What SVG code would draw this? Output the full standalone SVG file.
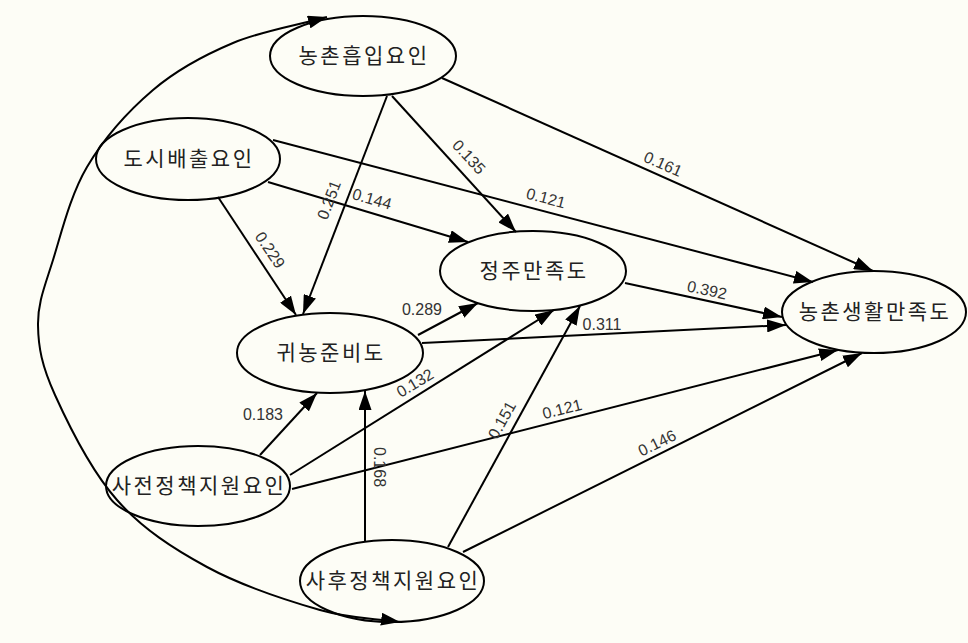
<svg xmlns="http://www.w3.org/2000/svg" width="968" height="643" viewBox="0 0 968 643">
<style>
.node ellipse{fill:none;stroke:#000;stroke-width:2}
.node text{font-family:"Noto Sans CJK KR","Noto Sans",sans-serif;font-size:21px;letter-spacing:2.5px;fill:#222;text-anchor:middle}
.edge{fill:none;stroke:#000;stroke-width:2;marker-end:url(#ah)}
.lbl{font-family:"Liberation Sans",Arial,sans-serif;font-size:16px;fill:#333;text-anchor:middle;dominant-baseline:central}
</style>
<defs>
<marker id="ah" viewBox="0 0 19 13" refX="19" refY="6.5" markerWidth="19" markerHeight="13" markerUnits="userSpaceOnUse" orient="auto-start-reverse"><path d="M0,0 L19,6.5 L0,13 z" fill="#000"/></marker>
</defs>
<rect width="968" height="643" fill="#fdfdf6"/>
<g id="connectors">
<path class="edge" style="marker-start:url(#ah)" d="M327,17 C295.7,25.7 262,30.8 233,43 C204,55.2 177.3,69.3 153,90 C128.7,110.7 103.7,138.7 87,167 C70.3,195.3 61.2,233.7 53,260 C44.8,286.3 37.7,302.5 38,325 C38.3,347.5 41.8,365.8 55,395 C68.2,424.2 91.7,471.3 117,500 C142.3,528.7 173.2,548.7 207,567 C240.8,585.3 287.8,600.8 320,610 C352.2,619.2 373.3,618 400,622"/>
<line class="edge" x1="387" y1="96" x2="303" y2="314"/>
<line class="edge" x1="218" y1="197" x2="296" y2="315"/>
<line class="edge" x1="268" y1="182" x2="468" y2="242"/>
<line class="edge" x1="273" y1="140" x2="813" y2="282"/>
<line class="edge" x1="392" y1="96" x2="516" y2="232"/>
<line class="edge" x1="442" y1="78" x2="873" y2="271"/>
<line class="edge" x1="418" y1="335" x2="478" y2="303"/>
<line class="edge" x1="422" y1="343" x2="786" y2="325"/>
<line class="edge" x1="260" y1="455" x2="317" y2="393"/>
<line class="edge" x1="290" y1="475" x2="554" y2="310"/>
<line class="edge" x1="292" y1="489" x2="838" y2="350"/>
<line class="edge" x1="365" y1="541" x2="365" y2="391"/>
<line class="edge" x1="448" y1="547" x2="580" y2="306"/>
<line class="edge" x1="463" y1="552" x2="862" y2="353"/>
<line class="edge" x1="625" y1="283" x2="782" y2="317"/>
<text class="lbl" transform="translate(663,164) rotate(24)">0.161</text>
<text class="lbl" transform="translate(546,198) rotate(15)">0.121</text>
<text class="lbl" transform="translate(469,157) rotate(47)">0.135</text>
<text class="lbl" transform="translate(329,200) rotate(-69)">0.251</text>
<text class="lbl" transform="translate(372,199) rotate(16)">0.144</text>
<text class="lbl" transform="translate(270,250) rotate(56)">0.229</text>
<text class="lbl" x="422" y="309">0.289</text>
<text class="lbl" transform="translate(707,290) rotate(12)">0.392</text>
<text class="lbl" x="602" y="324">0.311</text>
<text class="lbl" x="263" y="414">0.183</text>
<text class="lbl" transform="translate(415,383) rotate(-31)">0.132</text>
<text class="lbl" transform="translate(379,467) rotate(90)">0.168</text>
<text class="lbl" transform="translate(502,420) rotate(-61)">0.151</text>
<text class="lbl" transform="translate(562,409) rotate(-14)">0.121</text>
<text class="lbl" transform="translate(657,443) rotate(-26)">0.146</text>
</g>
<g id="n1" class="node"><ellipse cx="363" cy="56" rx="93" ry="40"/><text x="364" y="63">농촌흡입요인</text></g>
<g id="n2" class="node"><ellipse cx="188" cy="159" rx="92" ry="41"/><text x="189" y="166">도시배출요인</text></g>
<g id="n3" class="node"><ellipse cx="330" cy="353" rx="93" ry="40"/><text x="331" y="360">귀농준비도</text></g>
<g id="n4" class="node"><ellipse cx="533" cy="271" rx="93" ry="40"/><text x="534" y="278">정주만족도</text></g>
<g id="n5" class="node"><ellipse cx="874" cy="312" rx="92" ry="41"/><text x="875" y="319">농촌생활만족도</text></g>
<g id="n6" class="node"><ellipse cx="198" cy="486" rx="92" ry="40"/><text x="199" y="493">사전정책지원요인</text></g>
<g id="n7" class="node"><ellipse cx="392" cy="581" rx="92" ry="41"/><text x="393" y="588">사후정책지원요인</text></g>
</svg>
